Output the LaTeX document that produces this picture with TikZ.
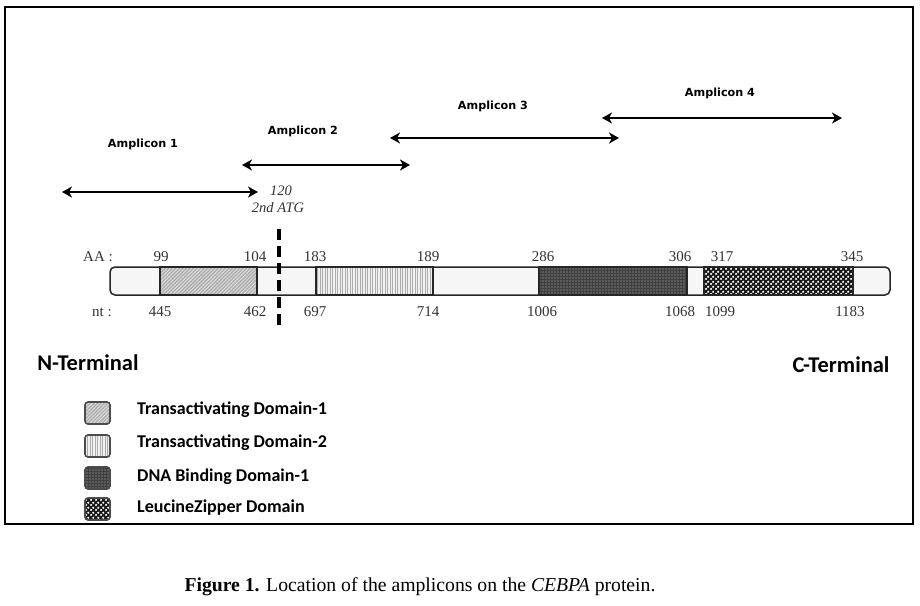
\documentclass[tikz,border=0pt]{standalone}
\usepackage{fontspec}
\setmainfont{Liberation Serif}
\newfontfamily\calfont{Carlito}
\newfontfamily\dvfont{DejaVu Sans}
\usetikzlibrary{arrows.meta,patterns,patterns.meta}
\tikzdeclarepattern{
  name=mycheck,
  type=uncolored,
  bounding box={(0,0) and (5pt,5pt)},
  tile size={(5pt,5pt)},
  code={\fill (1.25pt,1.25pt) circle (1.35pt); \fill (3.75pt,3.75pt) circle (1.35pt);}
}
\definecolor{numgray}{HTML}{333333}
\tikzset{
  amp/.style={line width=2.4pt, {Stealth[length=10pt,width=11pt,inset=3pt]}-{Stealth[length=10pt,width=11pt,inset=3pt]}},
  amplabel/.style={font=\dvfont\bfseries\fontsize{11.2}{13}\selectfont},
  num/.style={font=\fontsize{15}{17}\selectfont, text=numgray, inner sep=0pt},
  dom/.style={draw=black!85, line width=1.3pt, minimum height=28pt, inner sep=0pt},
  tadone/.style={preaction={fill=gray!60}, pattern={Lines[angle=45,distance=2.5pt,line width=0.6pt]}, pattern color=gray!20},
  tadtwo/.style={preaction={fill=gray!12}, pattern={Lines[angle=90,distance=2.5pt,line width=0.8pt]}, pattern color=gray!65},
  dbd/.style={preaction={fill=black!75}, pattern={Dots[distance=3pt,radius=0.7pt]}, pattern color=gray!55},
  lzd/.style={preaction={fill=black!90}, pattern=mycheck, pattern color=white},
  leg/.style={draw=black!70, line width=1.6pt, rounded corners=3pt, minimum width=25pt, minimum height=22pt, inner sep=0pt},
  legtext/.style={font=\calfont\bfseries\fontsize{18}{21}\selectfont, anchor=west, inner sep=0pt},
  term/.style={font=\calfont\bfseries\fontsize{22.5}{26}\selectfont, inner sep=0pt},
  atg/.style={line width=4.5pt, dash pattern=on 11pt off 6pt},
}
\begin{document}
\begin{tikzpicture}[x=1pt,y=-1pt]
\useasboundingbox (0,0) rectangle (920,605);
\fill[white] (0,0) rectangle (920,605);
\draw[line width=2.8pt] (5,7) rectangle (913,524);

% amplicons
\coordinate (a1l) at (62,192);  \coordinate (a1r) at (258,192);
\coordinate (a2l) at (242,165); \coordinate (a2r) at (410,165);
\coordinate (a3l) at (390,138); \coordinate (a3r) at (619,138);
\coordinate (a4l) at (602,118); \coordinate (a4r) at (842,118);
\draw[amp] (a1l) -- (a1r);
\draw[amp] (a2l) -- (a2r);
\draw[amp] (a3l) -- (a3r);
\draw[amp] (a4l) -- (a4r);
\node[amplabel] (l1) at (143,144) {Amplicon 1};
\node[amplabel] (l2) at (303,131) {Amplicon 2};
\node[amplabel] (l3) at (493,106) {Amplicon 3};
\node[amplabel] (l4) at (720,93) {Amplicon 4};

\node[num, font=\itshape\fontsize{14.5}{16}\selectfont] (t120) at (281,191) {120};
\node[num, font=\itshape\fontsize{14.5}{16}\selectfont] (tatg) at (278,208) {2nd ATG};

% protein bar
\node[draw=black!85, line width=1.5pt, rounded corners=5pt, fill=gray!7, minimum width=780pt, minimum height=28pt, inner sep=0pt] (bar) at (500,281) {};
\node[dom, tadone, minimum width=97pt] (tad1) at (208.5,281) {};
\node[dom, tadtwo, minimum width=117pt] (tad2) at (374.5,281) {};
\node[dom, dbd, minimum width=148pt] (dbd) at (613,281) {};
\node[dom, lzd, minimum width=149pt] (lz) at (778.5,281) {};

% ATG dashed line
\coordinate (dt) at (279,229);
\coordinate (db) at (279,327);
\draw[atg] (dt) -- (db);

% AA labels
\node[num] (aa) at (98,257) {AA :};
\node[num] (aa1) at (161,257) {99};
\node[num] (aa2) at (255,257) {104};
\node[num] (aa3) at (315,257) {183};
\node[num] (aa4) at (428,257) {189};
\node[num] (aa5) at (543,257) {286};
\node[num] (aa6) at (680,257) {306};
\node[num] (aa7) at (722,257) {317};
\node[num] (aa8) at (852,257) {345};
% nt labels
\node[num] (nt) at (102,312) {nt :};
\node[num] (nt1) at (160,312) {445};
\node[num] (nt2) at (255,312) {462};
\node[num] (nt3) at (315,312) {697};
\node[num] (nt4) at (428,312) {714};
\node[num] (nt5) at (542,312) {1006};
\node[num] (nt6) at (680,312) {1068};
\node[num] (nt7) at (720,312) {1099};
\node[num] (nt8) at (850,312) {1183};

\node[term] (nterm) at (88,363) {N-Terminal};
\node[term] (cterm) at (841,365) {C-Terminal};

% legend
\node[leg, tadone] (g1) at (97.5,413) {};
\node[leg, tadtwo] (g2) at (97.5,446) {};
\node[leg, dbd] (g3) at (97.5,478) {};
\node[leg, lzd] (g4) at (97.5,509) {};
\node[legtext] (g1t) at (137,410) {Transactivating Domain-1};
\node[legtext] (g2t) at (137,443) {Transactivating Domain-2};
\node[legtext] (g3t) at (137,477) {DNA Binding Domain-1};
\node[legtext] (g4t) at (137,508) {LeucineZipper Domain};

\node[font=\fontsize{19.7}{23}\selectfont, inner sep=0pt] (cap) at (420,587) {\textbf{Figure 1.} Location of the amplicons on the \textit{CEBPA} protein.};
\end{tikzpicture}
\end{document}
